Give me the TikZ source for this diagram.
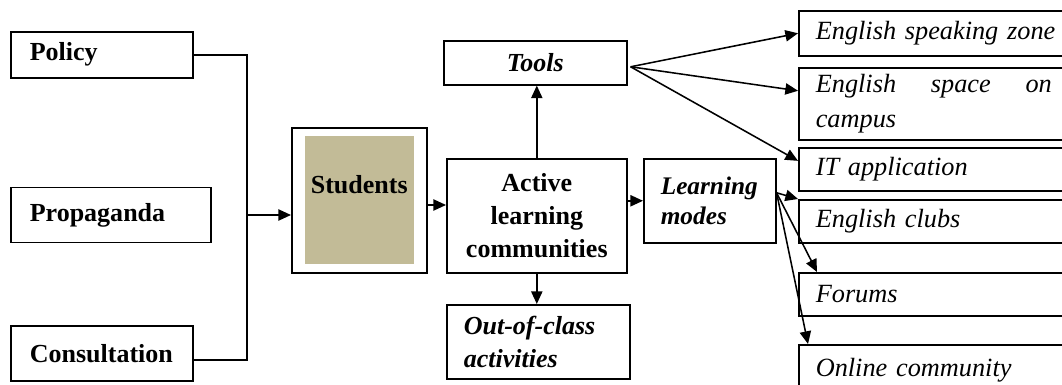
\documentclass[tikz,border=0pt]{standalone}
\usepackage{fontspec}
\setmainfont{Liberation Serif}
\usepackage{xcolor}
\usetikzlibrary{arrows.meta,positioning}
\definecolor{studbg}{RGB}{194,187,151}

\begin{document}
\begin{tikzpicture}[x=0.025cm, y=-0.025cm,
      box/.style={draw, line width=1.1pt, anchor=north west,
                  inner xsep=0.475cm, inner ysep=0pt, align=left,
                  font=\fontsize{18.5}{23}\selectfont\bfseries},
      cbox/.style={box, align=center,
                   font=\fontsize{18.5}{23.4}\selectfont\bfseries},
      ibox/.style={box, inner xsep=0.425cm, text width=6.65cm,
                   font=\fontsize{18.7}{24.8}\selectfont\itshape},
      link/.style={line width=1.1pt},
      arr/.style={-{Triangle[length=9pt,width=8pt]}, line width=1.1pt}
  ]
    \useasboundingbox (0,0) rectangle (1062,385);
    \clip (0,0) rectangle (1062,385);

    % left column
    \node[box, text width=3.6cm, minimum height=1.15cm] (policy) at (10,31) {Policy};
    \node[box, text width=4.05cm, minimum height=1.375cm,
          below=2.7cm of policy.south west, anchor=north west] (propag) {Propaganda};
    \node[box, text width=3.6cm, minimum height=1.375cm,
          below=2.05cm of propag.south west, anchor=north west] (consult) {Consultation};

    % students
    \node[draw, line width=1.1pt, anchor=north west, minimum width=3.375cm,
          minimum height=3.625cm] (students) at (291,127) {};
    \node[fill=studbg, minimum width=2.725cm, minimum height=3.2cm] (studin) at (students.center) {};
    \node[font=\fontsize{18.5}{23}\selectfont\bfseries] (studtxt) at ([yshift=0.39cm]studin.center) {Students};

    % middle part
    \node[cbox, minimum width=4.5cm, minimum height=2.85cm] (active) at (446,158)
          {Active\\learning\\communities};
    \node[cbox, minimum width=4.575cm, minimum height=1.1cm,
          font=\fontsize{18.5}{23}\selectfont\bfseries\itshape] (tools) at (443,40) {Tools};
    \node[box, inner xsep=0.425cm, text width=3.725cm, minimum height=1.85cm,
          font=\fontsize{18.5}{23.4}\selectfont\bfseries\itshape] (out) at (446,304)
          {Out-of-class\\activities};
    \node[box, inner xsep=0.425cm, text width=2.45cm, minimum height=2.1cm,
          font=\fontsize{18}{21}\selectfont\bfseries\itshape] (learn) at (643,158)
          {Learning\\modes};

    % right column
    \node[ibox, minimum height=1.125cm] (speak)  at (798,10)  {English speaking zone};
    \node[ibox, minimum height=1.8cm]   (space)  at (798,67)
          {\hbox to 5.9cm{English\hfill space\hfill on}\\campus};
    \node[ibox, minimum height=1.075cm] (itapp)  at (798,147) {IT application};
    \node[ibox, minimum height=1.075cm] (clubs)  at (798,199) {English clubs};
    \node[ibox, minimum height=1.075cm] (forums) at (798,272) {Forums};
    \node[ibox, minimum height=1.275cm] (online) at (798,344) {Online community};

    % connectors
    \coordinate (join) at (247,215);
    \coordinate (srow) at (0,205);
    \draw[link] (policy.east) -| (join) |- ([yshift=-0.16cm]consult.east);
    \draw[arr] (join) -- (join -| students.west);
    \draw[arr] (students.east |- srow) -- (active.west |- srow);
    \draw[arr] (active.north) -- (active.north |- tools.south);
    \draw[arr] (active.south) -- (active.south |- out.north);
    \draw[arr] (active.east |- learn.west) -- (learn.west);

    \coordinate (tfan) at ([xshift=0.075cm,yshift=-0.1cm]tools.east);
    \draw[arr] (tfan) -- (speak.west);
    \draw[arr] (tfan) -- ([yshift=0.325cm]space.west);
    \draw[arr] (tfan) -- ([yshift=0.21cm]itapp.west);

    \coordinate (lfan) at ([yshift=0.2cm]learn.east);
    \draw[arr] (lfan) -- (clubs.north west);
    \draw[arr] (lfan) -- ([xshift=0.475cm]forums.north west);
    \draw[arr] (lfan) -- ([xshift=0.25cm]online.north west);
  \end{tikzpicture}
\end{document}
